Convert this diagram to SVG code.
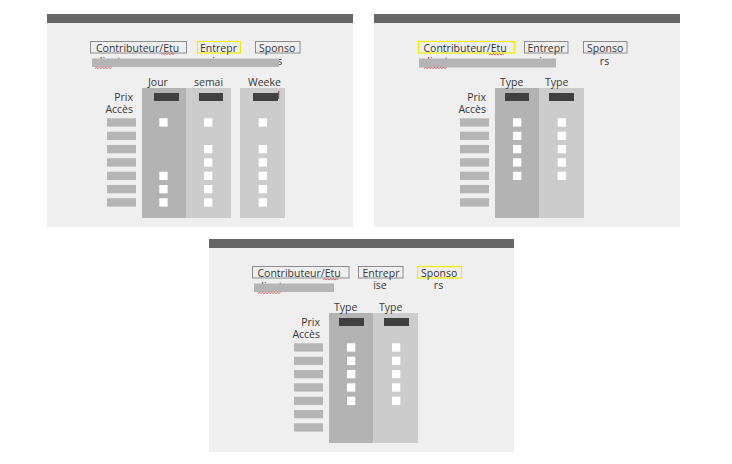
<svg xmlns="http://www.w3.org/2000/svg" width="732" height="464" viewBox="0 0 732 464">
<style>
  text { font-family: "Open Sans", "Noto Sans", "DejaVu Sans", sans-serif; font-size: 10.5px; fill: #383838; }
  .end { text-anchor: end; }
  .mid { text-anchor: middle; }
  .panel { fill: #efefef; }
  .topbar { fill: #666666; }
  .box { fill: none; stroke: #8c8c8c; stroke-width: 1; }
  .hl { fill: none; stroke: #eeee00; stroke-width: 1.2; }
  .cover { fill: #b5b5b5; }
  .row { fill: #b5b5b5; }
  .colA { fill: #b3b3b3; }
  .colB { fill: #cccccc; }
  .head { fill: #404040; }
  .sq { fill: #ffffff; }
  .squig { fill: none; stroke: #e04040; stroke-width: 0.8; }
</style>
<rect x="0" y="0" width="732" height="464" fill="#ffffff"/>

<!-- Panel 1 -->
<g id="panel1" transform="translate(47,14)">
  <rect class="panel" x="0" y="0" width="306" height="213"/>
  <rect class="topbar" x="0" y="0" width="306" height="9"/>
  <g id="p1-tabs">
    <rect class="box" x="43.5" y="27.5" width="96" height="11.5"/>
    <text x="49" y="38">Contributeur/Etu</text>
    <text x="49" y="50.5">diante</text>
    <rect class="hl" x="150.5" y="27.5" width="43" height="11.5"/>
    <text x="153" y="38">Entrepr</text>
    <text class="mid" x="172" y="50.5">ise</text>
    <rect class="box" x="208.5" y="27.5" width="44.5" height="11.5"/>
    <text x="212" y="38">Sponso</text>
    <text class="mid" x="230.5" y="50.5">rs</text>
    <rect class="cover" x="45" y="44.5" width="187" height="8.5"/>
    <path class="squig" d="M114 40.5 l1.5 -1.2 l1.5 1.2 l1.5 -1.2 l1.5 1.2 l1.5 -1.2 l1.5 1.2 l1.5 -1.2 l1.5 1.2 l1.5 -1.2"/>
    <path class="squig" d="M48 54.5 l1.5 -1.2 l1.5 1.2 l1.5 -1.2 l1.5 1.2 l1.5 -1.2 l1.5 1.2 l1.5 -1.2 l1.5 1.2 l1.5 -1.2 l1.5 1.2 l1.5 -1.2"/>
  </g>
  <g id="p1-prix">
    <text class="end" x="86" y="87">Prix</text>
    <text class="end" x="86" y="98.5">Accès</text>
    <rect class="row" x="60" y="104.3" width="29" height="8.3"/>
    <rect class="row" x="60" y="117.7" width="29" height="8.3"/>
    <rect class="row" x="60" y="131" width="29" height="8.3"/>
    <rect class="row" x="60" y="144.3" width="29" height="8.3"/>
    <rect class="row" x="60" y="157.7" width="29" height="8.3"/>
    <rect class="row" x="60" y="171" width="29" height="8.3"/>
    <rect class="row" x="60" y="184.3" width="29" height="8.3"/>
  </g>
  <g id="p1-jour">
    <rect class="colA" x="95" y="74" width="44" height="130"/>
    <text x="101" y="72">Jour</text>
    <rect class="head" x="107" y="79" width="25" height="8"/>
    <rect class="sq" x="112.3" y="104.3" width="8.3" height="8.3"/>
    <rect class="sq" x="112.3" y="157.7" width="8.3" height="8.3"/>
    <rect class="sq" x="112.3" y="171" width="8.3" height="8.3"/>
    <rect class="sq" x="112.3" y="184.3" width="8.3" height="8.3"/>
  </g>
  <g id="p1-semaine">
    <rect class="colB" x="139" y="74" width="45" height="130"/>
    <text x="147" y="72">semai</text>
    <text class="end" x="173" y="85">ne</text>
    <rect class="head" x="152" y="79" width="24" height="8"/>
    <rect class="sq" x="157" y="104.3" width="8.3" height="8.3"/>
    <rect class="sq" x="157" y="131" width="8.3" height="8.3"/>
    <rect class="sq" x="157" y="144.3" width="8.3" height="8.3"/>
    <rect class="sq" x="157" y="157.7" width="8.3" height="8.3"/>
    <rect class="sq" x="157" y="171" width="8.3" height="8.3"/>
    <rect class="sq" x="157" y="184.3" width="8.3" height="8.3"/>
  </g>
  <g id="p1-weekend">
    <rect class="colB" x="193" y="74" width="45" height="130"/>
    <text x="201" y="72">Weeke</text>
    <text class="end" x="233" y="85">nd</text>
    <rect class="head" x="206" y="79" width="25" height="8"/>
    <rect class="sq" x="211.7" y="104.3" width="8.3" height="8.3"/>
    <rect class="sq" x="211.7" y="131" width="8.3" height="8.3"/>
    <rect class="sq" x="211.7" y="144.3" width="8.3" height="8.3"/>
    <rect class="sq" x="211.7" y="157.7" width="8.3" height="8.3"/>
    <rect class="sq" x="211.7" y="171" width="8.3" height="8.3"/>
    <rect class="sq" x="211.7" y="184.3" width="8.3" height="8.3"/>
  </g>
</g>

<!-- Panel 2 -->
<g id="panel2" transform="translate(374,14)">
  <rect class="panel" x="0" y="0" width="306" height="213"/>
  <rect class="topbar" x="0" y="0" width="306" height="9"/>
  <g id="p2-tabs">
    <rect class="hl" x="44.5" y="27.5" width="96" height="11.5"/>
    <text x="49.5" y="38">Contributeur/Etu</text>
    <text x="49.5" y="50.5">diante</text>
    <rect class="box" x="150.5" y="27.5" width="43.5" height="11.5"/>
    <text x="153.5" y="38">Entrepr</text>
    <text class="mid" x="172" y="51">ise</text>
    <rect class="box" x="209.5" y="27.5" width="43.5" height="11.5"/>
    <text x="213" y="38">Sponso</text>
    <text class="mid" x="230.5" y="50.5">rs</text>
    <rect class="cover" x="45" y="44.5" width="137" height="9"/>
    <path class="squig" d="M115 41 l1.5 -1.2 l1.5 1.2 l1.5 -1.2 l1.5 1.2 l1.5 -1.2 l1.5 1.2 l1.5 -1.2 l1.5 1.2 l1.5 -1.2 l1.5 1.2"/>
    <path class="squig" d="M50 54.5 l1.5 -1.2 l1.5 1.2 l1.5 -1.2 l1.5 1.2 l1.5 -1.2 l1.5 1.2 l1.5 -1.2 l1.5 1.2 l1.5 -1.2 l1.5 1.2 l1.5 -1.2 l1.5 1.2 l1.5 -1.2 l1.5 1.2 l1.5 -1.2"/>
  </g>
  <g id="p2-prix">
    <text class="end" x="112" y="87">Prix</text>
    <text class="end" x="112" y="98.5">Accès</text>
    <rect class="row" x="86" y="104.3" width="29" height="8.3"/>
    <rect class="row" x="86" y="117.7" width="29" height="8.3"/>
    <rect class="row" x="86" y="131" width="29" height="8.3"/>
    <rect class="row" x="86" y="144.3" width="29" height="8.3"/>
    <rect class="row" x="86" y="157.7" width="29" height="8.3"/>
    <rect class="row" x="86" y="171" width="29" height="8.3"/>
    <rect class="row" x="86" y="184.3" width="29" height="8.3"/>
  </g>
  <g id="p2-type1">
    <rect class="colA" x="121" y="74" width="44" height="130"/>
    <text x="126" y="72">Type</text>
    <rect class="head" x="131" y="79" width="24" height="8"/>
    <rect class="sq" x="139" y="104.3" width="8.3" height="8.3"/>
    <rect class="sq" x="139" y="117.7" width="8.3" height="8.3"/>
    <rect class="sq" x="139" y="131" width="8.3" height="8.3"/>
    <rect class="sq" x="139" y="144.3" width="8.3" height="8.3"/>
    <rect class="sq" x="139" y="157.7" width="8.3" height="8.3"/>
  </g>
  <g id="p2-type2">
    <rect class="colB" x="165" y="74" width="45" height="130"/>
    <text x="171" y="72">Type</text>
    <rect class="head" x="175" y="79" width="25" height="8"/>
    <rect class="sq" x="183.7" y="104.3" width="8.3" height="8.3"/>
    <rect class="sq" x="183.7" y="117.7" width="8.3" height="8.3"/>
    <rect class="sq" x="183.7" y="131" width="8.3" height="8.3"/>
    <rect class="sq" x="183.7" y="144.3" width="8.3" height="8.3"/>
    <rect class="sq" x="183.7" y="157.7" width="8.3" height="8.3"/>
  </g>
</g>

<!-- Panel 3 -->
<g id="panel3" transform="translate(208,239)">
  <rect class="panel" x="1" y="0" width="305" height="213"/>
  <rect class="topbar" x="1" y="0" width="305" height="9"/>
  <g id="p3-tabs">
    <rect class="box" x="44.5" y="27.5" width="96.5" height="11.5"/>
    <text x="49.5" y="38">Contributeur/Etu</text>
    <text x="49.5" y="50.5">diante</text>
    <rect class="box" x="150.5" y="27.5" width="44.5" height="11.5"/>
    <text x="154.5" y="38">Entrepr</text>
    <text class="mid" x="172" y="50">ise</text>
    <rect class="hl" x="209.5" y="27.5" width="44" height="11.5"/>
    <text x="213" y="38">Sponso</text>
    <text class="mid" x="230.5" y="50">rs</text>
    <rect class="cover" x="46" y="44.5" width="80" height="8.5"/>
    <path class="squig" d="M115 41 l1.5 -1.2 l1.5 1.2 l1.5 -1.2 l1.5 1.2 l1.5 -1.2 l1.5 1.2 l1.5 -1.2 l1.5 1.2 l1.5 -1.2 l1.5 1.2"/>
    <path class="squig" d="M50 54.5 l1.5 -1.2 l1.5 1.2 l1.5 -1.2 l1.5 1.2 l1.5 -1.2 l1.5 1.2 l1.5 -1.2 l1.5 1.2 l1.5 -1.2 l1.5 1.2 l1.5 -1.2 l1.5 1.2 l1.5 -1.2 l1.5 1.2 l1.5 -1.2"/>
  </g>
  <g id="p3-prix">
    <text class="end" x="112" y="87">Prix</text>
    <text class="end" x="112" y="98.5">Accès</text>
    <rect class="row" x="86" y="104.3" width="29" height="8.3"/>
    <rect class="row" x="86" y="117.7" width="29" height="8.3"/>
    <rect class="row" x="86" y="131" width="29" height="8.3"/>
    <rect class="row" x="86" y="144.3" width="29" height="8.3"/>
    <rect class="row" x="86" y="157.7" width="29" height="8.3"/>
    <rect class="row" x="86" y="171" width="29" height="8.3"/>
    <rect class="row" x="86" y="184.3" width="29" height="8.3"/>
  </g>
  <g id="p3-type1">
    <rect class="colA" x="121" y="74" width="44" height="130"/>
    <text x="126" y="72">Type</text>
    <rect class="head" x="131" y="79" width="25" height="8"/>
    <rect class="sq" x="139" y="104.3" width="8.3" height="8.3"/>
    <rect class="sq" x="139" y="117.7" width="8.3" height="8.3"/>
    <rect class="sq" x="139" y="131" width="8.3" height="8.3"/>
    <rect class="sq" x="139" y="144.3" width="8.3" height="8.3"/>
    <rect class="sq" x="139" y="157.7" width="8.3" height="8.3"/>
  </g>
  <g id="p3-type2">
    <rect class="colB" x="165" y="74" width="45" height="130"/>
    <text x="171" y="72">Type</text>
    <rect class="head" x="176" y="79" width="25" height="8"/>
    <rect class="sq" x="184" y="104.3" width="8.3" height="8.3"/>
    <rect class="sq" x="184" y="117.7" width="8.3" height="8.3"/>
    <rect class="sq" x="184" y="131" width="8.3" height="8.3"/>
    <rect class="sq" x="184" y="144.3" width="8.3" height="8.3"/>
    <rect class="sq" x="184" y="157.7" width="8.3" height="8.3"/>
  </g>
</g>
</svg>
